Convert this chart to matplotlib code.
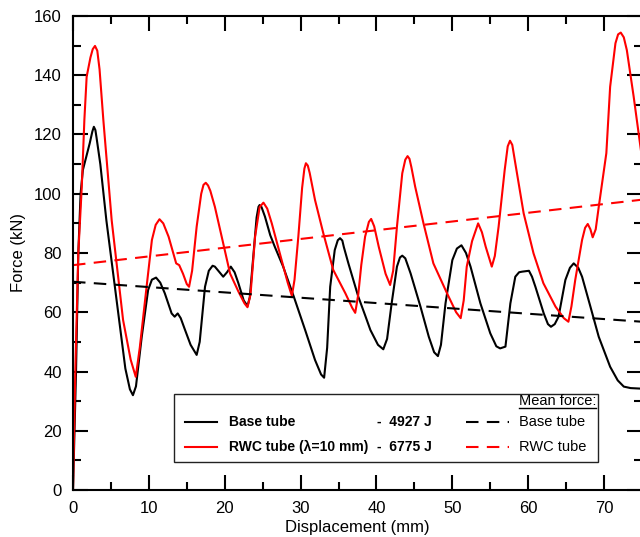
import matplotlib
matplotlib.use("Agg")
import matplotlib.pyplot as plt
from matplotlib.ticker import MultipleLocator
from matplotlib.patches import Rectangle

plt.rcParams['font.family'] = ['Liberation Sans', 'DejaVu Sans']

# --- datos (desplazamiento en mm, fuerza en kN) ---
base_x = [0, 0.4, 0.7, 1.0, 1.3, 1.8, 2.2, 2.55, 2.75, 2.95, 3.1, 3.6, 4.4, 5.1, 5.8, 6.9, 7.5, 7.9,
          8.3, 9.06, 9.9, 10.4, 10.95, 11.5, 12.1, 13.0, 13.4, 13.8, 14.2, 14.7, 15.5, 16.3,
          16.7, 17.4, 17.9, 18.4, 18.7, 19.8, 20.3, 20.8, 21.3, 21.8, 22.5, 23.0, 23.3, 23.8,
          24.2, 24.45, 24.6, 24.85, 25.3, 26.0, 26.6, 27.7, 29.1, 30.6, 31.9, 32.7, 33.1, 33.5,
          33.9, 34.5, 34.9, 35.2, 35.5, 35.7, 36.3, 37.6, 38.5, 39.2, 40.2, 40.9, 41.4, 42.0,
          42.7, 43.1, 43.4, 43.8, 44.5, 45.8, 46.9, 47.6, 48.1, 48.5, 49.1, 50.0, 50.6, 51.2,
          51.8, 52.4, 53.7, 55.0, 55.8, 56.3, 57.0, 57.65, 58.3, 58.8, 59.2, 60.1, 60.5, 60.95,
          62.05, 62.6, 63.0, 63.5, 64.0, 64.9, 65.5, 66.0, 66.6, 67.1, 68.2, 69.3, 70.8, 71.8,
          72.6, 73.5, 75.0]
base_f = [0, 40, 80, 100, 108, 113, 117, 121, 122.6, 121.5, 119, 110, 91, 77, 63, 41, 34, 32,
          35, 51.7, 67.5, 71, 71.7, 70, 66.4, 59.6, 58.5, 59.6, 58, 54.5, 49, 45.6,
          50, 68.6, 74, 75.7, 75.4, 72, 73.5, 75.4, 73.5, 69.8, 64, 62.1, 65, 79.9,
          92, 95.6, 96.2, 95.5, 92.3, 86, 82.1, 75.4, 65.3, 54, 43.9, 39, 37.9, 48,
          68.6, 81, 84.3, 85, 84.2, 82, 76.5, 65.3, 59, 54, 49, 47.5, 51, 63,
          75.4, 78.5, 79.1, 78.2, 73.1, 61.9, 51.7, 46.5, 45.2, 49, 63, 77.6, 81.5, 82.6,
          80, 75.4, 63, 52.9, 48.5, 47.8, 48.4, 63, 72, 73.5, 73.7, 74, 72, 68.6,
          59.6, 56, 55.1, 56, 58.5, 70.9, 75, 76.5, 75, 72, 61.9, 51.7, 41.6, 37,
          34.9, 34.4, 34.2]

rwc_x = [0, 0.3, 0.7, 1.15, 1.5, 1.8, 2.3, 2.6, 2.9, 3.2, 3.5, 4.0, 5.1, 6.6, 7.6, 8.27, 8.8,
         9.7, 10.4, 10.9, 11.4, 11.9, 12.6, 13.6, 14.0, 14.5, 15.0, 15.3, 15.7, 16.3, 16.9,
         17.2, 17.5, 17.8, 18.1, 18.7, 19.6, 20.7, 21.8, 22.6, 23.0, 23.4, 24.0, 24.6, 25.1,
         25.6, 26.2, 27.5, 28.3, 28.85, 29.2, 29.7, 30.2, 30.5, 30.7, 30.95, 31.2, 31.9, 33.0,
         34.3, 35.9, 36.8, 37.2, 37.6, 38.0, 38.5, 39.0, 39.3, 39.7, 40.3, 41.2, 41.8, 42.2,
         42.7, 43.4, 43.8, 44.1, 44.35, 44.6, 45.1, 46.2, 47.5, 49.3, 50.5, 51.1, 51.5, 51.9,
         52.6, 53.4, 53.9, 54.4, 55.2, 55.6, 56.1, 56.9, 57.3, 57.6, 57.9, 58.3, 59.4, 60.7,
         62.0, 63.6, 64.7, 65.3, 65.7, 66.2, 67.1, 67.5, 67.85, 68.2, 68.5, 68.9, 69.3, 70.3,
         70.8, 71.5, 71.85, 72.2, 72.6, 73.0, 73.9, 75.0]
rwc_f = [0, 40, 80, 102, 125, 139.5, 146, 148.8, 149.9, 148.3, 142, 124.9, 91, 57.4, 44, 38.2, 48,
         68.6, 84.4, 89.5, 91.4, 90, 85.5, 76.5, 75.9, 73, 69.5, 68.6, 74, 88.9, 100,
         103, 103.7, 102.8, 101, 95.6, 85.5, 73.1, 67, 63, 61.7, 66, 85.5, 95.5, 97,
         95, 90, 77.6, 70, 65.5, 71, 85.5, 102, 108.5, 110.3, 109.5, 107, 97.9, 86.6,
         74.3, 66.4, 61.5, 59.8, 66, 76, 85.5, 90.5, 91.5, 89, 82.1, 73, 69.2, 74,
         88.9, 106.9, 111.5, 112.7, 111.8, 109, 102.4, 90, 76.5, 66.4, 60, 58, 64, 75.4,
         84, 90, 87, 82.1, 75.4, 79, 88.9, 108, 116, 117.9, 116.5, 110.3, 93.4, 79.9,
         69.8, 61.9, 58, 56.8, 62, 70.9, 84.4, 88.5, 89.8, 88, 85.3, 88, 95.6, 113.7,
         136.1, 150.8, 153.8, 154.4, 152.8, 148.5, 132.8, 112]

# rectas de fuerza media
mean_x = [0, 75]
base_mean = [70.3, 56.8]
rwc_mean = [75.9, 98.0]

labels = ["Base tube", "RWC tube (\u03bb=10 mm)"]
energies = ["-  4927 J", "-  6775 J"]
mean_labels = ["Base tube", "RWC tube"]

fig = plt.figure(figsize=(6.4, 5.37), dpi=100)
ax = fig.add_axes([73 / 640, 47 / 537, 569 / 640, 474 / 537])

ax.plot(base_x, base_f, color='black', lw=1.5)
ax.plot(rwc_x, rwc_f, color='red', lw=1.5)
ax.plot(mean_x, base_mean, color='black', lw=1.5, dashes=(6, 4))
ax.plot(mean_x, rwc_mean, color='red', lw=1.5, dashes=(6, 4))

ax.set_xlim(0, 75)
ax.set_ylim(0, 160)
ax.xaxis.set_major_locator(MultipleLocator(10))
ax.xaxis.set_minor_locator(MultipleLocator(5))
ax.yaxis.set_major_locator(MultipleLocator(20))
ax.yaxis.set_minor_locator(MultipleLocator(10))
ax.tick_params(which='both', direction='in', top=True, right=True, width=1.5,
               labelsize=12, pad=8)
ax.tick_params(which='major', length=11)
ax.tick_params(which='minor', length=6)
for s in ax.spines.values():
    s.set_linewidth(1.5)

ax.set_xlabel("Displacement (mm)", fontsize=12, labelpad=3)
ax.set_ylabel("Force (kN)", fontsize=12, labelpad=6)

# leyenda hecha a mano (coordenadas de ejes)
T = ax.transAxes
ax.add_patch(Rectangle((0.1775, 0.059), 0.7452, 0.1435, transform=T, facecolor='white',
                       edgecolor='#222222', lw=1.0, zorder=5))
rows_y = [0.1445, 0.0915]
colors = ['black', 'red']
for i in range(2):
    y = rows_y[i]
    ax.plot([0.197, 0.253], [y, y], color=colors[i], lw=1.5, transform=T, zorder=6)
    ax.text(0.274, y, labels[i], transform=T, fontsize=10, fontweight='bold',
            va='center', ha='left', zorder=6)
    ax.text(0.535, y, energies[i], transform=T, fontsize=10, fontweight='bold',
            va='center', ha='left', zorder=6)
    ax.plot([0.6907, 0.7663], [y, y], color=colors[i], lw=1.5, dashes=(6, 4),
            transform=T, zorder=6)
    ax.text(0.7838, y, mean_labels[i], transform=T, fontsize=10.5,
            va='center', ha='left', zorder=6)
ax.text(0.7838, 0.1785, "Mean force:", transform=T, fontsize=10.5, va='baseline',
        ha='left', zorder=6)
ax.plot([0.7838, 0.9193], [0.1725, 0.1725], color='black', lw=1.0, transform=T, zorder=6)

fig.savefig("out.png", dpi=100)
